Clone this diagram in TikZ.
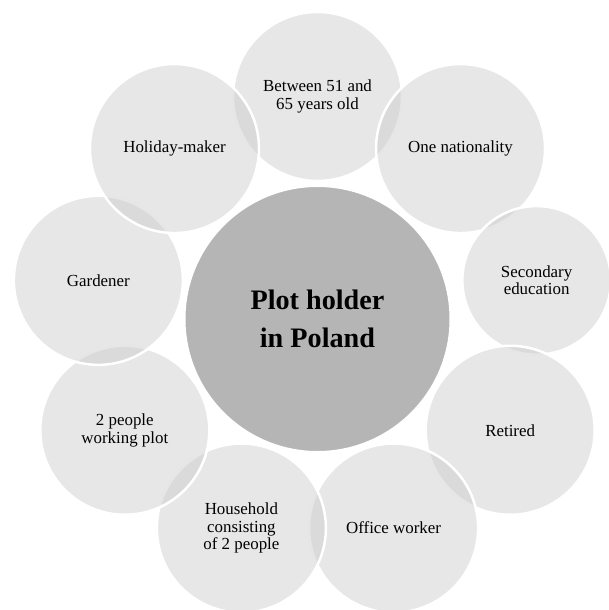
\documentclass[tikz,border=0pt]{standalone}
\usepackage{fontspec}
\setmainfont{Liberation Serif}

\begin{document}
\begin{tikzpicture}[
    petal/.style={circle, draw=white, line width=2.5pt, fill=black!20, fill opacity=0.48, text opacity=1, minimum size=169pt, inner sep=0pt, align=center, font=\fontsize{16.9}{17.5}\selectfont},
    hub/.style={circle, draw=white, line width=2.5pt, fill=black!29, minimum size=266.5pt, inner sep=0pt, align=center, font=\fontsize{28.2}{38.6}\selectfont\bfseries}]
    \useasboundingbox (-317.5pt,-291pt) rectangle (291.5pt,319pt);
    \node[hub] (plot) at (0,0) {Plot holder\\in Poland};

    % petals, drawn clockwise from the top
    \node[petal] (age) at (90:222.5pt) {Between 51 and\\65 years old};
    \node[petal] (nationality) at (50:222.5pt) {One nationality};
    \node[petal, minimum size=148.5pt] (education) at (10:222.5pt) {Secondary\\education};
    \node[petal] (retired) at (-30:222.5pt) {Retired};
    \node[petal] (office) at (-70:222.5pt) {Office worker};
    \node[petal] (household) at (-110:222.5pt) {Household\\consisting\\of 2 people};
    \node[petal] (pair) at (-150:222.5pt) {2 people\\working plot};
    \node[petal] (gardener) at (170:222.5pt) {Gardener};
    \node[petal] (holiday) at (130:222.5pt) {Holiday-maker};
\end{tikzpicture}
\end{document}
